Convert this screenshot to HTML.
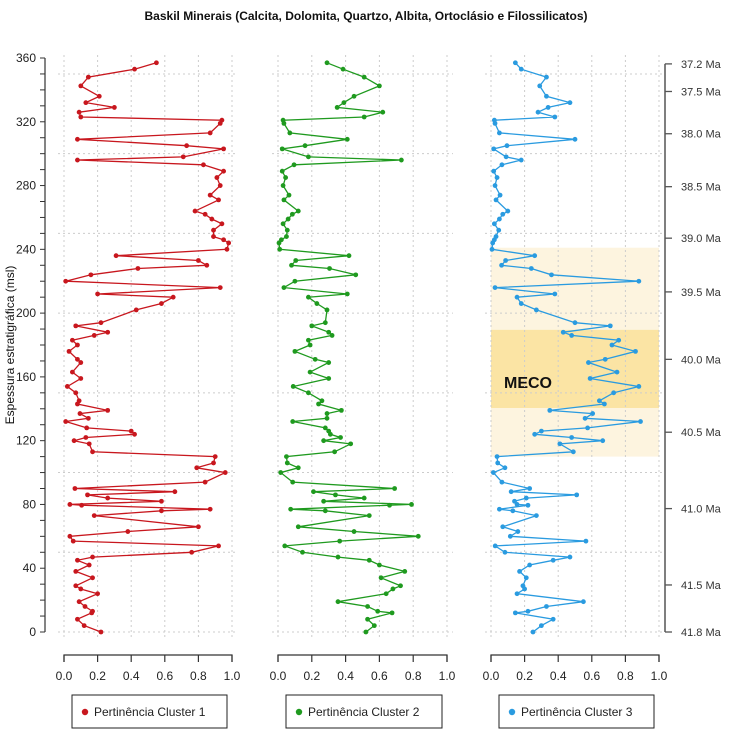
<!DOCTYPE html>
<html><head><meta charset="utf-8"><style>
body{margin:0;background:#fff;}
svg{display:block;font-family:"Liberation Sans",Arial,sans-serif;}
</style></head><body>
<svg id="chart" width="732" height="741" viewBox="0 0 732 741">
<text x="366" y="20" text-anchor="middle" font-size="12" font-weight="bold" fill="#111">Baskil Minerais (Calcita, Dolomita, Quartzo, Albita, Ortoclásio e Filossilicatos)</text>
<text transform="translate(14,345) rotate(-90)" text-anchor="middle" font-size="12" fill="#111">Espessura estratigráfica (msl)</text>
<g id="layer"></g>
</svg>
<script>
const depths=[357,353,348,342.5,336,332,329,326,323,321,319,313,309,305,303,298,296,293,289,285,280,274,271,264,262,259,256,252,248,246,244,240,236,233,230,228,224,220,216,212,210,206,202,194,192,188,186,183,180,176,171,169,163,159,154,150,145,143,139,137,134,132,128,126,124,122,120,118,113,110,106,103,100,94,90,88,86,84,82,80,79.5,77,76,73,66,63,60,57,54,50,47,45,42,38,34,29,27,24,19,16,13,12,8,4,0];
const cluster1=[0.55,0.42,0.145,0.10,0.21,0.13,0.30,0.09,0.10,0.94,0.93,0.87,0.08,0.73,0.95,0.71,0.08,0.83,0.95,0.91,0.93,0.87,0.92,0.78,0.84,0.88,0.94,0.89,0.89,0.95,0.98,0.97,0.31,0.80,0.85,0.44,0.16,0.01,0.93,0.20,0.65,0.58,0.43,0.22,0.07,0.26,0.18,0.05,0.08,0.03,0.08,0.10,0.05,0.10,0.02,0.07,0.09,0.08,0.26,0.095,0.145,0.01,0.135,0.40,0.42,0.13,0.06,0.15,0.17,0.90,0.89,0.79,0.96,0.84,0.065,0.66,0.14,0.26,0.58,0.035,0.105,0.87,0.58,0.18,0.80,0.38,0.035,0.055,0.92,0.76,0.17,0.08,0.15,0.07,0.17,0.07,0.10,0.20,0.09,0.125,0.17,0.165,0.08,0.12,0.22];
const cluster2=[0.29,0.385,0.51,0.60,0.45,0.39,0.35,0.62,0.51,0.03,0.035,0.07,0.41,0.16,0.025,0.18,0.73,0.095,0.025,0.045,0.03,0.065,0.035,0.12,0.085,0.06,0.03,0.055,0.05,0.02,0.006,0.01,0.42,0.105,0.08,0.305,0.46,0.10,0.035,0.41,0.18,0.23,0.29,0.28,0.20,0.30,0.32,0.18,0.19,0.10,0.22,0.30,0.19,0.30,0.09,0.18,0.26,0.24,0.375,0.29,0.29,0.087,0.28,0.30,0.31,0.37,0.27,0.43,0.335,0.05,0.055,0.12,0.016,0.087,0.69,0.21,0.34,0.51,0.27,0.79,0.66,0.075,0.28,0.54,0.12,0.45,0.83,0.365,0.04,0.145,0.355,0.54,0.60,0.75,0.61,0.725,0.68,0.64,0.355,0.53,0.59,0.675,0.53,0.57,0.52];
const cluster3=[0.145,0.18,0.33,0.29,0.33,0.47,0.34,0.28,0.38,0.02,0.024,0.05,0.50,0.095,0.016,0.09,0.18,0.065,0.016,0.036,0.024,0.054,0.03,0.10,0.07,0.05,0.02,0.046,0.03,0.02,0.01,0.006,0.26,0.087,0.063,0.24,0.36,0.88,0.024,0.38,0.155,0.18,0.27,0.50,0.71,0.43,0.48,0.76,0.72,0.86,0.68,0.58,0.75,0.59,0.88,0.73,0.645,0.675,0.35,0.605,0.56,0.89,0.575,0.30,0.26,0.48,0.665,0.41,0.49,0.036,0.04,0.083,0.014,0.065,0.23,0.12,0.51,0.21,0.14,0.155,0.22,0.05,0.13,0.27,0.07,0.16,0.115,0.565,0.025,0.083,0.47,0.37,0.23,0.17,0.21,0.19,0.20,0.155,0.55,0.33,0.22,0.145,0.37,0.30,0.25];
const xTicks=[0,0.2,0.4,0.6,0.8,1.0];
const xTickLabels=["0.0","0.2","0.4","0.6","0.8","1.0"];
const yLabels=[0,40,80,120,160,200,240,280,320,360];
const ageLabels=["37.2 Ma","37.5 Ma","38.0 Ma","38.5 Ma","39.0 Ma","39.5 Ma","40.0 Ma","40.5 Ma","41.0 Ma","41.5 Ma","41.8 Ma"];
const ageDepths=[356.3,339,312.5,279.3,247,213.3,171,125.3,77.4,29.5,0];
const lightBand=[110,241];
const mecoBand=[140.5,189.5];

const NS="http://www.w3.org/2000/svg";
const L=document.getElementById('layer');
function mk(tag,attrs,parent){const e=document.createElementNS(NS,tag);for(const k in attrs)e.setAttribute(k,attrs[k]);(parent||L).appendChild(e);return e;}
const Y=d=>632-d*(574/360);
const panels=[{x0:64,w:168,data:cluster1,color:"#c8171e",name:"cluster-1",label:"Pertinência Cluster 1"},
{x0:278,w:169,data:cluster2,color:"#1f9a1f",name:"cluster-2",label:"Pertinência Cluster 2"},
{x0:491,w:168,data:cluster3,color:"#2a9be0",name:"cluster-3",label:"Pertinência Cluster 3"}];

panels.forEach((p,pi)=>{
  const X=v=>p.x0+v*p.w;
  const g=mk('g',{});
  
  
  if(pi===2){
    let r=mk('rect',{x:X(0),y:Y(lightBand[1]),width:p.w,height:Y(lightBand[0])-Y(lightBand[1]),fill:"#fdf4df"},g);
    
    
    r=mk('rect',{x:X(0),y:Y(mecoBand[1]),width:p.w,height:Y(mecoBand[0])-Y(mecoBand[1]),fill:"#fbe4a4"},g);
    
    
    const t=mk('text',{x:504,y:388,"font-size":16,"font-weight":"bold",fill:"#111"},g);
    t.textContent="MECO";
    
    
  }
  // grid
  xTicks.forEach(v=>{const l=mk('line',{x1:X(v),x2:X(v),y1:55,y2:640,stroke:"#ccc","stroke-dasharray":"2,3","stroke-width":1},g);
    
    });
  for(let d=0;d<=350;d+=50){const l=mk('line',{x1:X(0)-6,x2:X(1)+6,y1:Y(d),y2:Y(d),stroke:"#ccc","stroke-dasharray":"2,3","stroke-width":1},g);
    
    }
  // x axis
  const ax=mk('path',{d:`M${X(0)},662 V655 H${X(1)} V662`,stroke:"#333",fill:"none","stroke-width":1.2},g);
  
  
  xTicks.forEach((v,i)=>{
    mk('line',{x1:X(v),x2:X(v),y1:655,y2:662,stroke:"#333","stroke-width":1.2},g);
    const t=mk('text',{x:X(v),y:680,"text-anchor":"middle","font-size":12,fill:"#222"},g);
    t.textContent=xTickLabels[i];
    
    
  });
  // series
  const pts=p.data.map((v,i)=>X(v).toFixed(1)+","+Y(depths[i]).toFixed(1)).join(" ");
  const pl=mk('polyline',{points:pts,fill:"none",stroke:p.color,"stroke-width":1.3},g);
  
  
  p.data.forEach((v,i)=>{const c=mk('circle',{cx:X(v),cy:Y(depths[i]),r:2.4,fill:p.color},g);
    
    });
  // legend
  const lg=mk('g',{},g);
  
  
  mk('rect',{x:X(0)+8,y:695,width:p.w-13,height:33,fill:"#fff",stroke:"#222","stroke-width":1},lg);
  mk('circle',{cx:X(0)+21,cy:712,r:3.2,fill:p.color},lg);
  const lt=mk('text',{x:X(0)+30,y:716,"font-size":12,fill:"#222"},lg);
  lt.textContent=p.label;
});
// left axis
const la=mk('line',{x1:45,x2:45,y1:Y(360),y2:Y(0),stroke:"#333","stroke-width":1.2});


for(let d=0;d<=360;d+=10){mk('line',{x1:40,x2:45,y1:Y(d),y2:Y(d),stroke:"#333","stroke-width":1});}
yLabels.forEach(d=>{const t=mk('text',{x:36,y:Y(d)+4,"text-anchor":"end","font-size":12,fill:"#222"});
  t.textContent=d;
  
  });
// right age axis
const ra=mk('line',{x1:665,x2:665,y1:Y(ageDepths[0]),y2:Y(0),stroke:"#555","stroke-width":1.5});


ageDepths.forEach((d,i)=>{
  mk('line',{x1:665,x2:672,y1:Y(d),y2:Y(d),stroke:"#555","stroke-width":1.3});
  const t=mk('text',{x:681,y:Y(d)+4,"font-size":11,fill:"#333"});
  t.textContent=ageLabels[i];
  
  
});
</script>
</body></html>
